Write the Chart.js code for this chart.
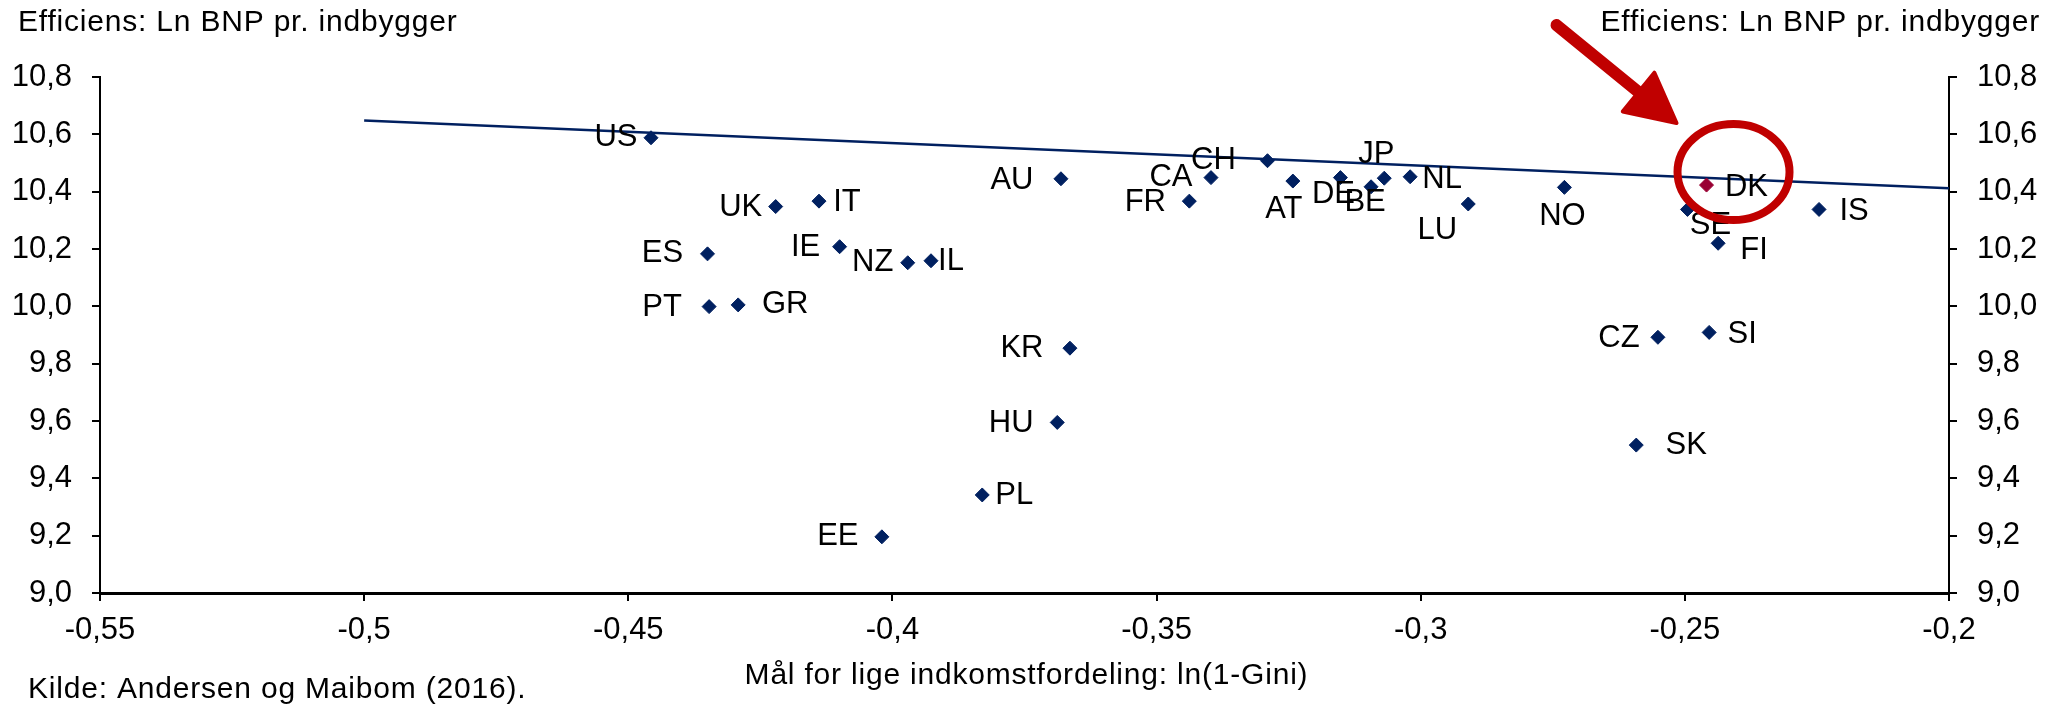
<!DOCTYPE html>
<html>
<head>
<meta charset="utf-8">
<script src="https://cdn.jsdelivr.net/npm/chart.js@4.4.0/dist/chart.umd.min.js"></script>
<style>
    html, body { margin: 0; padding: 0; background: #fff; }
    #wrap { width: 2058px; height: 707px; }
</style>
</head>
<body>
<div id="wrap"><canvas id="scatter-chart" width="2058" height="707"></canvas></div>
<script>
// Country codes and values
const countries = ['US', 'UK', 'IT', 'ES', 'IE', 'NZ', 'IL', 'PT', 'GR', 'AU',
                   'FR', 'CA', 'CH', 'AT', 'DE', 'BE', 'JP', 'NL', 'LU', 'NO',
                   'SE', 'FI', 'IS', 'KR', 'HU', 'PL', 'EE', 'CZ', 'SI', 'SK'];
const giniValues = [-0.4457, -0.4221, -0.4139, -0.4350, -0.4100, -0.3971, -0.3927, -0.4347, -0.4292, -0.3681,
                    -0.3438, -0.3397, -0.3290, -0.3242, -0.3152, -0.3094, -0.3069, -0.3020, -0.2910, -0.2728,
                    -0.2495, -0.2437, -0.2246, -0.3664, -0.3688, -0.3830, -0.4020, -0.2551, -0.2454, -0.2592];
const gdpValues = [10.588, 10.348, 10.367, 10.183, 10.208, 10.152, 10.159, 9.999, 10.005, 10.445,
                   10.367, 10.449, 10.508, 10.437, 10.449, 10.417, 10.447, 10.452, 10.357, 10.415,
                   10.338, 10.220, 10.338, 9.854, 9.595, 9.342, 9.196, 9.892, 9.909, 9.516];

// Denmark is highlighted
const dkLabel = 'DK';
const dkGini = [-0.2459];
const dkGdp = [10.423];

// Trend line end points
const trendX = [-0.5, -0.2];
const trendY = [10.648, 10.412];

// Axis ticks
const xTickValues = [-0.55, -0.5, -0.45, -0.4, -0.35, -0.3, -0.25, -0.2];
const yTickValues = [9.0, 9.2, 9.4, 9.6, 9.8, 10.0, 10.2, 10.4, 10.6, 10.8];

const yTitle = 'Efficiens: Ln BNP pr. indbygger';
const xTitle = 'Mål for lige indkomstfordeling: ln(1-Gini)';
const sourceText = 'Kilde: Andersen og Maibom (2016).';

// label placement: offset of label centre from the marker (px)
const labelOffsets = {
    US: [-35, 0], UK: [-35, 1], IT: [28, 1], ES: [-45, 0], IE: [-34, 1],
    NZ: [-35, 0], IL: [20, 1], PT: [-47, 1], GR: [47, 0], AU: [-49, 2],
    FR: [-44, 1], CA: [-40, 0], CH: [-54, 0], AT: [-9, 28], DE: [-7, 17],
    BE: [-6, 16], JP: [-8, -24], NL: [32, 3], LU: [-31, 26], NO: [-2, 29],
    SE: [23, 16], FI: [36, 7], IS: [35, 2], KR: [-48, 0], HU: [-46, 1],
    PL: [32, 0], EE: [-44, 0], CZ: [-39, 1], SI: [33, 2], SK: [50, 0],
    DK: [40, 2]
};

const FONT = "'Liberation Sans', Arial, sans-serif";
const NAVY = '#002060';
const RED = '#C00000';

function fmtX(v) {
    return parseFloat(v.toFixed(2)).toString().replace('.', ',');
}
function fmtY(v) {
    return v.toFixed(1).replace('.', ',');
}

// Point labels, highlight circle/arrow and free texts
const annotatePlugin = {
    id: 'annotate',
    afterDatasetsDraw(chart) {
        const ctx = chart.ctx;
        const x = chart.scales.x;
        const y = chart.scales.y;
        ctx.save();
        ctx.font = '31px ' + FONT;
        ctx.fillStyle = '#000';
        ctx.textAlign = 'center';
        ctx.textBaseline = 'middle';
        countries.forEach((c, i) => {
            const off = labelOffsets[c];
            ctx.fillText(c, x.getPixelForValue(giniValues[i]) + off[0], y.getPixelForValue(gdpValues[i]) + off[1]);
        });
        const dkX = x.getPixelForValue(dkGini[0]);
        const dkY = y.getPixelForValue(dkGdp[0]);
        ctx.fillText(dkLabel, dkX + labelOffsets.DK[0], dkY + labelOffsets.DK[1]);

        // circle round DK
        ctx.strokeStyle = RED;
        ctx.lineWidth = 8;
        ctx.beginPath();
        ctx.ellipse(dkX + 27, dkY - 13, 56, 48, 0, 0, Math.PI * 2);
        ctx.stroke();

        // arrow pointing at the circle
        const tail = [dkX - 150, dkY - 160];
        const tip = [dkX - 30, dkY - 62];
        const dx = tip[0] - tail[0], dy = tip[1] - tail[1];
        const len = Math.hypot(dx, dy);
        const ux = dx / len, uy = dy / len;
        const nx = -uy, ny = ux;
        const headLen = 49, headW = 25;
        const bx = tip[0] - ux * headLen, by = tip[1] - uy * headLen;
        ctx.fillStyle = RED;
        ctx.lineCap = 'round';
        ctx.lineJoin = 'round';
        ctx.lineWidth = 12;
        ctx.beginPath();
        ctx.moveTo(tail[0], tail[1]);
        ctx.lineTo(bx + ux * 6, by + uy * 6);
        ctx.stroke();
        ctx.lineWidth = 4;
        ctx.beginPath();
        ctx.moveTo(tip[0], tip[1]);
        ctx.lineTo(bx + nx * headW, by + ny * headW);
        ctx.lineTo(bx - nx * headW, by - ny * headW);
        ctx.closePath();
        ctx.fill();
        ctx.stroke();
        ctx.restore();
    },
    afterDraw(chart) {
        const ctx = chart.ctx;
        const area = chart.chartArea;
        ctx.save();
        ctx.font = '30px ' + FONT;
        ctx.fillStyle = '#000';
        ctx.textBaseline = 'middle';
        if ('letterSpacing' in ctx) ctx.letterSpacing = '0.8px';
        ctx.textAlign = 'left';
        ctx.fillText(yTitle, 18, 23);
        ctx.fillText(sourceText, 28, 690);
        ctx.textAlign = 'right';
        ctx.fillText(yTitle, 2040, 23);
        ctx.textAlign = 'center';
        ctx.fillText(xTitle, (area.left + area.right) / 2 + 2, area.bottom + 83);
        ctx.restore();
    }
};

const axisGrid = {
    drawOnChartArea: false,
    drawTicks: true,
    tickLength: 8,
    color: '#000',
    lineWidth: 2
};

const yAxis = (position, width) => ({
    type: 'linear',
    position: position,
    min: 9,
    max: 10.8,
    afterFit(scale) { scale.width = width; },
    afterBuildTicks(scale) { scale.ticks = yTickValues.map(v => ({ value: v })); },
    ticks: {
        font: { family: FONT, size: 31 },
        color: '#000',
        padding: 20,
        callback: v => fmtY(v)
    },
    grid: axisGrid,
    border: { display: true, color: '#000', width: 2 }
});

const ctx = document.getElementById('scatter-chart').getContext('2d');
const scatterChart = new Chart(ctx, {
    type: 'scatter',
    data: {
        datasets: [{
            label: 'Lande',
            data: countries.map((c, i) => ({ x: giniValues[i], y: gdpValues[i] })),
            pointStyle: 'rectRot',
            pointRadius: 7,
            pointBackgroundColor: NAVY,
            pointBorderColor: NAVY,
            pointBorderWidth: 1,
            yAxisID: 'y'
        }, {
            label: dkLabel,
            data: dkGini.map((g, i) => ({ x: g, y: dkGdp[i] })),
            pointStyle: 'rectRot',
            pointRadius: 7,
            pointBackgroundColor: '#990033',
            pointBorderColor: '#990033',
            pointBorderWidth: 1,
            yAxisID: 'y'
        }, {
            label: 'Trend',
            data: trendX.map((t, i) => ({ x: t, y: trendY[i] })),
            showLine: true,
            borderColor: NAVY,
            borderWidth: 2.5,
            pointRadius: 0,
            yAxisID: 'y'
        }]
    },
    options: {
        responsive: false,
        devicePixelRatio: 1,
        animation: false,
        layout: { padding: { top: 77, left: 0, right: 0, bottom: 0 } },
        plugins: {
            legend: { display: false },
            tooltip: { enabled: false }
        },
        scales: {
            x: {
                type: 'linear',
                position: 'bottom',
                min: -0.55,
                max: -0.2,
                afterFit(scale) { scale.height = 114; },
                afterBuildTicks(scale) { scale.ticks = xTickValues.map(v => ({ value: v })); },
                ticks: {
                    font: { family: FONT, size: 31 },
                    color: '#000',
                    padding: 11,
                    maxRotation: 0,
                    autoSkip: false,
                    callback: v => fmtX(v)
                },
                grid: axisGrid,
                border: { display: true, color: '#000', width: 3 }
            },
            y: yAxis('left', 100),
            y2: yAxis('right', 109)
        }
    },
    plugins: [annotatePlugin]
});
</script>
</body>
</html>
